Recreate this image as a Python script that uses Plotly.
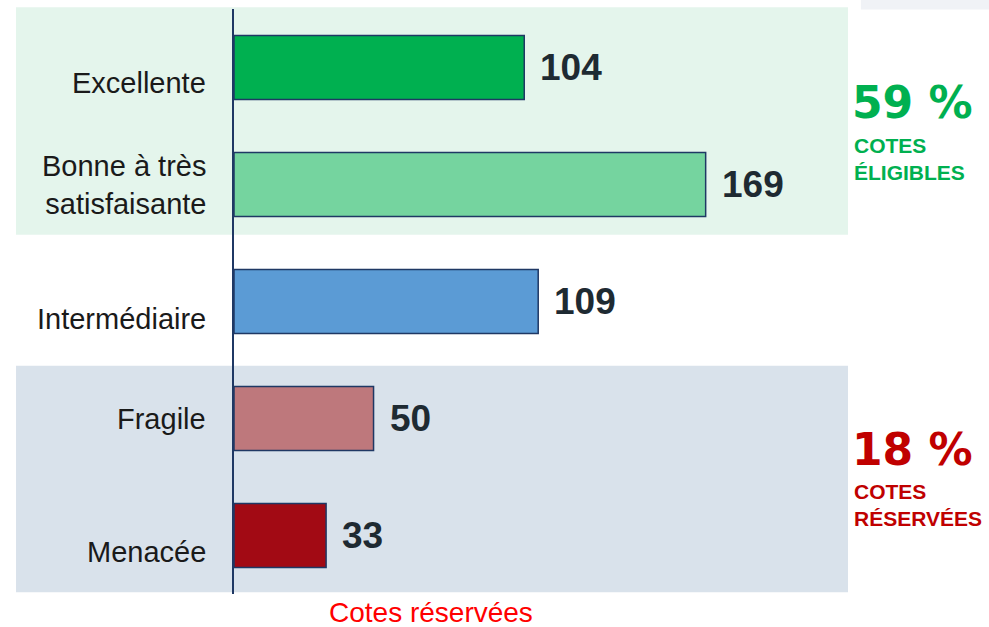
import plotly.graph_objects as go

categories = ["Menacée", "Fragile", "Intermédiaire", "Bonne à très<br>satisfaisante", "Excellente"]
cat_labels = ["Menacée", "Fragile", "Intermédiaire", "Bonne à très<br>satisfaisante", "Excellente"]
values = [33, 50, 109, 169, 104]
bar_colors = ["#A20A14", "#BE787C", "#5B9BD5", "#75D49F", "#00B050"]
label_shift = [-16, 0, -17, 0, -15]  # label offset vs bar centre, px

eligible_pct = "59 %"
eligible_txt = "COTES<br>ÉLIGIBLES"
reserved_pct = "18 %"
reserved_txt = "COTES<br>RÉSERVÉES"
axis_title = "Cotes réservées"

fig = go.Figure()

fig.add_trace(go.Bar(
    x=values,
    y=categories,
    orientation="h",
    marker=dict(color=bar_colors, line=dict(color="#1F3864", width=1.5)),
    showlegend=False,
    hoverinfo="x+y",
))

# background bands
fig.add_shape(type="rect", xref="paper", yref="paper", x0=-0.355, x1=1.0, y0=0.614, y1=1.003,
              fillcolor="#E4F5EC", line_width=0, layer="below")
fig.add_shape(type="rect", xref="paper", yref="paper", x0=-0.355, x1=1.0, y0=0.003, y1=0.39,
              fillcolor="#D9E2EB", line_width=0, layer="below")
fig.add_shape(type="rect", xref="paper", yref="paper", x0=1.021, x1=1.25, y0=0.999, y1=1.02,
              fillcolor="#F0F2F6", line_width=0, layer="below")

# category labels and values
for cat, lab, v, dy in zip(categories, cat_labels, values, label_shift):
    fig.add_annotation(x=0, xref="paper", y=cat, yref="y", text=lab, showarrow=False,
                       xanchor="right", yanchor="middle", xshift=-26, yshift=dy, align="right",
                       font=dict(family="Liberation Sans, Arial", size=29, color="#1a1a1a"))
    fig.add_annotation(x=v, y=cat, text="<b>%d</b>" % v, showarrow=False,
                       xanchor="left", yanchor="middle", xshift=14,
                       font=dict(family="Liberation Sans, Arial", size=37, color="#1E2A32"))

side = dict(xref="paper", yref="paper", showarrow=False, xanchor="left", yanchor="middle", align="left")
fig.add_annotation(x=1.004, y=0.84, text="<b>%s</b>" % eligible_pct,
                   font=dict(family="DejaVu Sans", size=44, color="#00B050"), **side)
fig.add_annotation(x=1.006, y=0.744, text="<b>%s</b>" % eligible_txt,
                   font=dict(family="Liberation Sans, Arial", size=21, color="#00B050"), **side)
fig.add_annotation(x=1.004, y=0.247, text="<b>%s</b>" % reserved_pct,
                   font=dict(family="DejaVu Sans", size=44, color="#C00000"), **side)
fig.add_annotation(x=1.006, y=0.1515, text="<b>%s</b>" % reserved_txt,
                   font=dict(family="Liberation Sans, Arial", size=21, color="#C00000"), **side)
fig.add_annotation(x=0.321, xref="paper", y=-0.032, yref="paper", text=axis_title,
                   showarrow=False, xanchor="center", yanchor="middle",
                   font=dict(family="Liberation Sans, Arial", size=28, color="#FF0000"))

fig.update_layout(
    width=989, height=627,
    margin=dict(l=234, r=141, t=9, b=33),
    paper_bgcolor="white", plot_bgcolor="rgba(0,0,0,0)",
    bargap=0.453,
    xaxis=dict(range=[0, 220], showgrid=False, showticklabels=False, zeroline=False, fixedrange=True),
    yaxis=dict(showgrid=False, showticklabels=False, showline=True, linecolor="#1F3864",
               linewidth=2, ticks="", zeroline=False),
)

fig.write_html("out.html", config={"displayModeBar": False},
               post_script="document.body.style.margin='0';")
